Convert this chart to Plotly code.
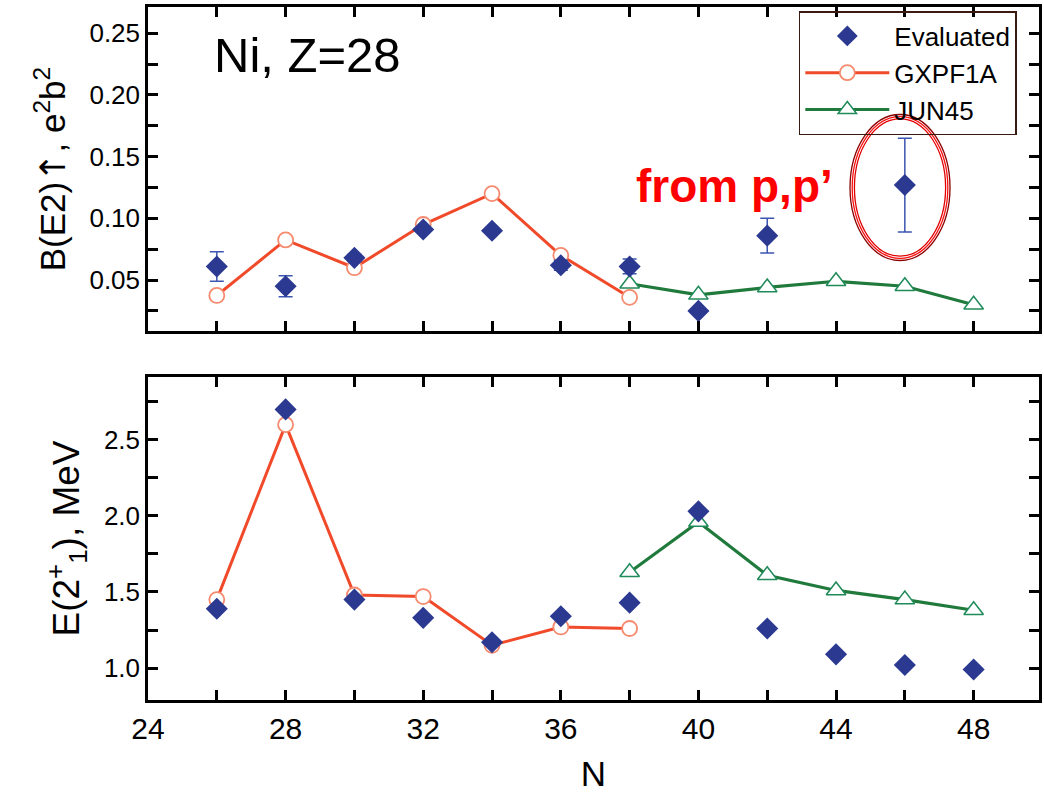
import plotly.graph_objects as go

# Neutron numbers for the Ni isotopes
n_eval_be2 = [26, 28, 30, 32, 34, 36, 38, 40, 42, 46]
be2_eval = [0.061, 0.045, 0.068, 0.091, 0.090, 0.062, 0.061, 0.025, 0.086, 0.127]
be2_err = [0.012, 0.0085, 0.003, 0.002, 0.0, 0.004, 0.006, 0.0, 0.014, 0.038]

n_gx = [26, 28, 30, 32, 34, 36, 38]
be2_gx = [0.0375, 0.0825, 0.060, 0.095, 0.120, 0.070, 0.036]

n_jun = [38, 40, 42, 44, 46, 48]
be2_jun = [0.047, 0.038, 0.044, 0.049, 0.045, 0.030]

n_eval_e2 = [26, 28, 30, 32, 34, 36, 38, 40, 42, 44, 46, 48]
e2_eval = [1.39, 2.70, 1.45, 1.33, 1.17, 1.34, 1.43, 2.03, 1.26, 1.09, 1.02, 0.99]
e2_gx = [1.45, 2.60, 1.48, 1.47, 1.15, 1.27, 1.26]
e2_jun = [1.63, 1.96, 1.61, 1.51, 1.45, 1.38]

x_ticks = [24, 28, 32, 36, 40, 44, 48]

FONT = "Liberation Sans, Arial, sans-serif"
BLUE = "#2b3990"
ERR_BLUE = "#3c55b0"
RED = "#f04a2a"
CIRCLE_EDGE = "#f58a6e"
GREEN = "#1f7a3c"
TRI_EDGE = "#1f8a5a"

W, H = 1044, 801
L, R, T, B = 148, 2, 7, 101
plot_w = W - L - R
plot_h = H - T - B
top_dom = [(H - B - 331) / plot_h, 1.0]
bot_dom = [0.0, (H - B - 377) / plot_h]

fig = go.Figure()

circle_marker = dict(symbol="circle", size=15, color="white",
                     line=dict(color=CIRCLE_EDGE, width=1.8))
tri_marker = dict(symbol="triangle-up", size=17, color="white",
                  line=dict(color=TRI_EDGE, width=1.5))
diamond_marker = dict(symbol="diamond", size=17, color=BLUE)

# Upper panel: B(E2)
fig.add_trace(go.Scatter(
    x=n_gx, y=be2_gx, mode="lines+markers", name="GXPF1A",
    line=dict(color=RED, width=3), marker=circle_marker,
    xaxis="x", yaxis="y", legendrank=2))
fig.add_trace(go.Scatter(
    x=n_jun, y=be2_jun, mode="lines+markers", name="JUN45",
    line=dict(color=GREEN, width=3.2), marker=tri_marker,
    xaxis="x", yaxis="y", legendrank=3))
fig.add_trace(go.Scatter(
    x=n_eval_be2, y=be2_eval, mode="markers", name="Evaluated",
    marker=diamond_marker,
    error_y=dict(type="data", array=be2_err, visible=True,
                 color=ERR_BLUE, thickness=1.5, width=7),
    xaxis="x", yaxis="y", legendrank=1))

# Lower panel: E(2+)
fig.add_trace(go.Scatter(
    x=n_gx, y=e2_gx, mode="lines+markers", showlegend=False,
    line=dict(color=RED, width=3), marker=circle_marker,
    xaxis="x2", yaxis="y2"))
fig.add_trace(go.Scatter(
    x=n_jun, y=e2_jun, mode="lines+markers", showlegend=False,
    line=dict(color=GREEN, width=3.2), marker=tri_marker,
    xaxis="x2", yaxis="y2"))
fig.add_trace(go.Scatter(
    x=n_eval_e2, y=e2_eval, mode="markers", showlegend=False,
    marker=diamond_marker, xaxis="x2", yaxis="y2"))

axis_common = dict(
    showline=True, linecolor="black", linewidth=2.5, mirror="ticks",
    ticks="inside", ticklen=10, tickwidth=2.5, tickcolor="black",
    showgrid=False, zeroline=False,
)
x_range = [24, 49.9]
ARROW = "<span style=\"font-family:'DejaVu Sans'\">\u2191</span>"

fig.update_layout(
    width=W, height=H,
    margin=dict(l=L, r=R, t=T, b=B),
    paper_bgcolor="white", plot_bgcolor="white",
    font=dict(family=FONT, color="black"),
    xaxis=dict(domain=[0, 1], anchor="y", range=x_range, dtick=2, tick0=24,
               showticklabels=False, **axis_common),
    yaxis=dict(domain=top_dom, anchor="x", range=[0.0087, 0.2713],
               tickvals=[0.05, 0.10, 0.15, 0.20, 0.25], tickformat=".2f",
               minor=dict(dtick=0.025, tick0=0, ticks="inside", ticklen=10,
                          tickwidth=2.5, tickcolor="black"),
               tickfont=dict(size=26),
               title=dict(text="B(E2)" + ARROW + ", e<sup>2</sup>b<sup>2</sup>",
                          font=dict(size=35), standoff=14),
               **axis_common),
    xaxis2=dict(domain=[0, 1], anchor="y2", range=x_range,
                tickvals=x_ticks, ticktext=[str(v) for v in x_ticks],
                minor=dict(dtick=2, tick0=24, ticks="inside", ticklen=10,
                           tickwidth=2.5, tickcolor="black"),
                tickfont=dict(size=30),
                title=dict(text="N", font=dict(size=35), standoff=18),
                **axis_common),
    yaxis2=dict(domain=bot_dom, anchor="x2", range=[0.79, 2.913],
                tickvals=[1.0, 1.5, 2.0, 2.5], tickformat=".1f",
                minor=dict(dtick=0.25, tick0=0, ticks="inside", ticklen=10,
                           tickwidth=2.5, tickcolor="black"),
                tickfont=dict(size=26),
                title=dict(text="E(2<sup>+</sup><sub>1</sub>), MeV",
                           font=dict(size=37), standoff=13),
                **axis_common),
    legend=dict(x=(801 - L) / plot_w, y=(H - B - 11) / plot_h,
                xanchor="left", yanchor="top",
                bgcolor="rgba(255,255,255,0)", bordercolor="#3a1a10",
                borderwidth=1.5, font=dict(size=26), tracegroupgap=0,
                itemwidth=84),
    showlegend=True,
)

# Panel label
fig.add_annotation(text="Ni, Z=28", xref="paper", yref="paper",
                   x=(212 - L) / plot_w, y=(H - B - 55) / plot_h,
                   xanchor="left", yanchor="middle", showarrow=False,
                   font=dict(size=49, color="black"))

# Highlight ring around the (p,p') point at N=46
hl_x = n_eval_be2[-1] - 0.14
hl_y = be2_eval[-1] - 0.002
for i, c in enumerate(["#8b0000", "#ff1010", "#e00000"]):
    rx = 50 - i * 2.2
    ry = 73 - i * 2.2
    fig.add_shape(type="circle", xref="x", yref="y",
                  xsizemode="pixel", ysizemode="pixel",
                  xanchor=hl_x, yanchor=hl_y,
                  x0=-rx, x1=rx, y0=-ry, y1=ry,
                  line=dict(color=c, width=1.3))

fig.add_annotation(text="<b>from p,p\u2019</b>", xref="x", yref="y",
                   x=hl_x, y=hl_y, xshift=-65, yshift=2,
                   xanchor="right", yanchor="middle", showarrow=False,
                   font=dict(size=46, color="#ff0000"))

fig.write_html("out.html")
